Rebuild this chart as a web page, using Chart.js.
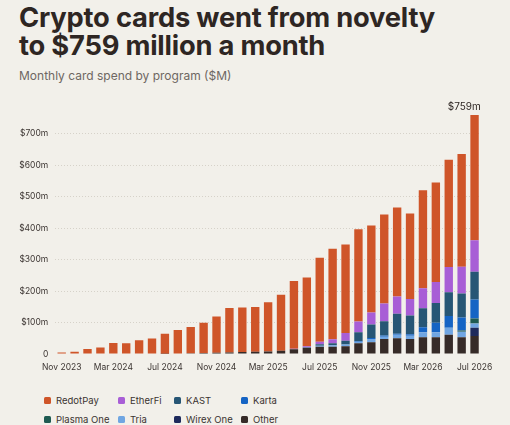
<!DOCTYPE html>
<html>
<head>
<meta charset="utf-8">
<script src="https://cdn.jsdelivr.net/npm/chart.js@4.4.1/dist/chart.umd.min.js"></script>
<style>
  html, body { margin: 0; padding: 0; }
  body { width: 510px; height: 425px; background: #f2f0ea; position: relative; overflow: hidden; font-family: Inter, "Noto Sans", sans-serif; }
  h1 { position: absolute; left: 19px; top: 4px; margin: 0; font-size: 27.3px; line-height: 28px; font-weight: 700; color: #2e2623; letter-spacing: -0.2px; }
  .sub { position: absolute; left: 19px; top: 68px; margin: 0; font-size: 12px; line-height: 16px; color: #6e6762; }
  #wrap { position: absolute; left: 0; top: 90px; width: 510px; height: 290px; }
  #legend { position: absolute; left: 44px; top: 393px; display: grid; grid-template-columns: 74px 56px 67px auto; row-gap: 5px; font-size: 9.5px; color: #3b3431; }
  #legend div { display: flex; align-items: center; height: 14px; white-space: nowrap; }
  #legend span { display: inline-block; width: 7px; height: 7px; border-radius: 1.5px; margin-right: 5px; }
</style>
</head>
<body>
<h1>Crypto cards went from novelty<br>to $759 million a month</h1>
<p class="sub">Monthly card spend by program ($M)</p>
<div id="wrap"><canvas id="chart"></canvas></div>
<div id="legend"></div>
<script>
const months = ['Nov 2023','Dec 2023','Jan 2024','Feb 2024','Mar 2024','Apr 2024','May 2024','Jun 2024',
  'Jul 2024','Aug 2024','Sep 2024','Oct 2024','Nov 2024','Dec 2024','Jan 2025','Feb 2025',
  'Mar 2025','Apr 2025','May 2025','Jun 2025','Jul 2025','Aug 2025','Sep 2025','Oct 2025',
  'Nov 2025','Dec 2025','Jan 2026','Feb 2026','Mar 2026','Apr 2026','May 2026','Jun 2026','Jul 2026'];

// $M per month
const other     = [0,0,0,0,0,0,0,0,1,1.5,2,3,4,5,6,7,8,10,15,19,23,23,25,34,37,48,50,48,53,53,61,53,57];
const wirexOne  = [0,0,0,0,0,0,0,0,0,0,0,0,0,0,0,0,0,0,0,0,0,0,0,0,0,0,0,0,0,0,0,0,26];
const tria      = [0,0,0,0,0,0,0,0,0,0,0,0,0,0,0,0,0,0,0,0,3,5,5,5,11,7,11,10,16,16,22,18,14];
const plasmaOne = [0,0,0,0,0,0,0,0,0,0,0,0,0,0,0,0,0,0,0,0,0,0,0,0,0,0,0,0,0,0,0,4,16];
const karta     = [0,0,0,0,0,0,0,0,0,0,0,0,0,0,0,0,0,0,0,0,0,0,0,2,3,4,3,5,16,30,38,41,60];
const kast      = [0,0,0,0,0,0,0,0,0,0,0,0,0,0,0,0,0,0,0,2,5,6,12,28,43,45,64,59,60,63,75,76,88];
const etherFi   = [0,0,0,0,0,0,0,0,0,0,0,0,0,0,0,0,0,0,2,4,8,13,25,34,38,56,55,53,64,67,80,85,100];
const redotPay  = [5,7,16,21,35,34,44,49,63,75,84,96,115,141,142,142,156,178,215,218,267,287,281,293,276,283,282,271,311,316,341,358,398];

const yTicks = [0,100,200,300,400,500,600,700];

const series = [
  { label: 'Other',      data: other,     color: '#362b28' },
  { label: 'Wirex One',  data: wirexOne,  color: '#1e2a5c' },
  { label: 'Tria',       data: tria,      color: '#70a6e2' },
  { label: 'Plasma One', data: plasmaOne, color: '#1f5b52' },
  { label: 'Karta',      data: karta,     color: '#1564c4' },
  { label: 'KAST',       data: kast,      color: '#275675' },
  { label: 'EtherFi',    data: etherFi,   color: '#a85ed6' },
  { label: 'RedotPay',   data: redotPay,  color: '#cf5529' }
];

const totalLabel = {
  id: 'totalLabel',
  afterDatasetsDraw(chart) {
    const last = months.length - 1;
    let sum = 0;
    chart.data.datasets.forEach(ds => { sum += ds.data[last]; });
    const meta = chart.getDatasetMeta(chart.data.datasets.length - 1);
    const bar = meta.data[last];
    const y = chart.scales.y.getPixelForValue(sum);
    const ctx = chart.ctx;
    ctx.save();
    ctx.font = '10px Inter, "Noto Sans", sans-serif';
    ctx.fillStyle = '#2e2623';
    ctx.textAlign = 'right';
    ctx.textBaseline = 'alphabetic';
    ctx.fillText('$' + Math.round(sum) + 'm', bar.x + bar.width / 2 + 2, y - 5);
    ctx.restore();
  }
};

const chart = new Chart(document.getElementById('chart'), {
  type: 'bar',
  data: {
    labels: months,
    datasets: series.map(s => ({
      label: s.label,
      data: s.data,
      backgroundColor: s.color,
      borderWidth: 0,
      barPercentage: 0.65,
      categoryPercentage: 1
    }))
  },
  options: {
    responsive: true,
    maintainAspectRatio: false,
    animation: false,
    layout: { padding: { top: 11.8, right: 29, bottom: 0, left: 0 } },
    plugins: { legend: { display: false }, tooltip: { enabled: false } },
    scales: {
      x: {
        stacked: true,
        grid: { display: false, drawTicks: false },
        border: { display: false },
        afterFit(scale) { scale.height = 26; },
        ticks: {
          autoSkip: false,
          maxRotation: 0,
          padding: 8,
          color: '#3b3431',
          font: { size: 8.5, family: 'Inter, "Noto Sans", sans-serif' },
          callback(v, i) { return i % 4 === 0 ? months[i] : ''; }
        }
      },
      y: {
        stacked: true,
        min: 0,
        max: 800,
        afterFit(scale) { scale.width = 55.25; },
        afterBuildTicks(scale) { scale.ticks = yTicks.map(v => ({ value: v })); },
        grid: {
          drawTicks: false,
          color: ctx => ctx.tick && ctx.tick.value === 0 ? 'rgba(0,0,0,0)' : '#d6d2c9',
          lineWidth: 1
        },
        border: { display: false, dash: [1, 2] },
        ticks: {
          padding: 7,
          color: '#3b3431',
          font: { size: 8.5, family: 'Inter, "Noto Sans", sans-serif' },
          callback(v) { return v === 0 ? '0' : '$' + v + 'm'; }
        }
      }
    }
  },
  plugins: [totalLabel]
});

// HTML legend, top-of-stack first, laid out in columns
const legend = document.getElementById('legend');
series.slice().reverse().forEach(s => {
  const d = document.createElement('div');
  d.innerHTML = '<span style="background:' + s.color + '"></span>' + s.label;
  legend.appendChild(d);
});
</script>
</body>
</html>
